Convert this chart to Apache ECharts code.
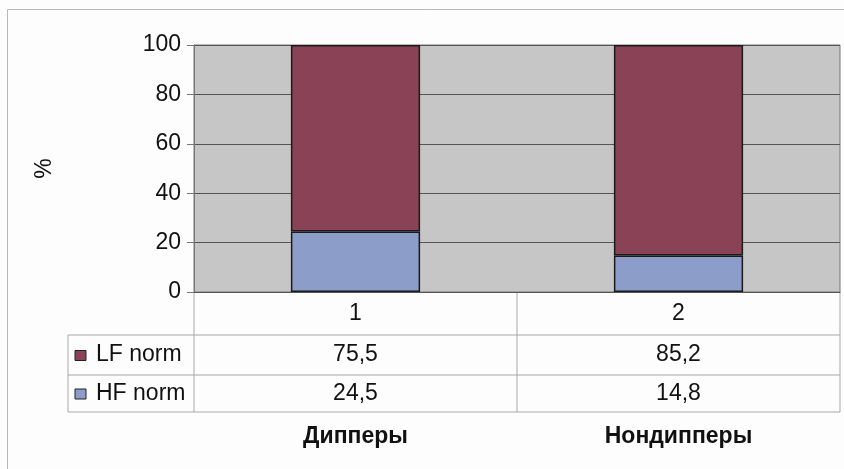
<!DOCTYPE html>
<html>
<head>
<meta charset="utf-8">
<script src="https://cdn.jsdelivr.net/npm/echarts@6/dist/echarts.min.js"></script>
<style>
  html, body { margin: 0; padding: 0; background: #fdfdfd; }
  #chart { width: 844px; height: 469px; }
</style>
</head>
<body>
<div id="chart"></div>
<script>
// Category indices shown in the data table header and group names below it
const categories = ['1', '2'];
const groupNames = ['Дипперы', 'Нондипперы'];
// Stacked shares, percent
const seriesNames = ['LF norm', 'HF norm'];
const lfNorm = [75.5, 85.2];
const hfNorm = [24.5, 14.8];
const yTicks = [0, 20, 40, 60, 80, 100];

const FONT = '"Liberation Sans", Arial, sans-serif';
const FS = 23;
const COLORS = { lf: '#8a4257', hf: '#8c9dca' };

const chart = echarts.init(document.getElementById('chart'));

const gridL = 194, gridT = 45, gridR = 840, gridB = 292;

chart.setOption({
  animation: false,
  backgroundColor: '#fdfdfd',
  grid: { left: gridL, top: gridT, right: 844 - gridR, bottom: 469 - gridB, show: true,
          backgroundColor: '#c6c6c6', borderColor: '#777', borderWidth: 1 },
  xAxis: [{
    type: 'category',
    data: categories,
    axisLine: { show: true, lineStyle: { color: '#555' } },
    axisTick: { show: false },
    axisLabel: { color: '#111', fontFamily: FONT, fontSize: FS, margin: 10 }
  }, {
    type: 'category',
    data: groupNames,
    position: 'bottom',
    offset: 133,
    axisLine: { show: false },
    axisTick: { show: false },
    axisLabel: { color: '#111', fontFamily: FONT, fontSize: FS, fontWeight: 'bold', margin: 0 }
  }],
  yAxis: {
    type: 'value',
    min: yTicks[0],
    max: yTicks[yTicks.length - 1],
    interval: yTicks[1] - yTicks[0],
    name: '%',
    nameLocation: 'middle',
    nameRotate: 90,
    nameGap: 138,
    nameTextStyle: { color: '#111', fontFamily: FONT, fontSize: FS },
    axisLine: { show: true, lineStyle: { color: '#777' } },
    axisTick: { show: true, length: 7, lineStyle: { color: '#777' } },
    axisLabel: { color: '#111', fontFamily: FONT, fontSize: FS, margin: 13,
                 formatter: v => String(v) },
    splitLine: { show: true, lineStyle: { color: '#555', width: 1 } }
  },
  series: [{
    name: seriesNames[1],
    type: 'bar',
    stack: 'total',
    data: hfNorm,
    barWidth: '40%',
    itemStyle: { color: COLORS.hf, borderColor: '#1a1a1a', borderWidth: 1.5 }
  }, {
    name: seriesNames[0],
    type: 'bar',
    stack: 'total',
    data: lfNorm,
    barWidth: '40%',
    itemStyle: { color: COLORS.lf, borderColor: '#1a1a1a', borderWidth: 1.5 }
  }]
});

// Data table under the plot: grid lines, legend keys and formatted values
const rowTop = 335, rowMid = 375, rowBot = 412, tableL = 68;
const lineStyle = { stroke: '#a8a8a8', lineWidth: 1 };
const elements = [];
function hLine(x1, x2, y) {
  elements.push({ type: 'line', shape: { x1, y1: y, x2, y2: y }, style: lineStyle, silent: true });
}
function vLine(x, y1, y2) {
  elements.push({ type: 'line', shape: { x1: x, y1, x2: x, y2 }, style: lineStyle, silent: true });
}
hLine(tableL, gridR, rowTop);
hLine(tableL, gridR, rowMid);
hLine(tableL, gridR, rowBot);
vLine(tableL, rowTop, rowBot);
vLine(gridL, gridB, rowBot);
vLine(gridR, gridB, rowBot);
const boundary = (chart.convertToPixel({ xAxisIndex: 0 }, 0) + chart.convertToPixel({ xAxisIndex: 0 }, 1)) / 2;
vLine(boundary, gridB, rowBot);

const rows = [
  { name: seriesNames[0], values: lfNorm, color: COLORS.lf, y: (rowTop + rowMid) / 2 },
  { name: seriesNames[1], values: hfNorm, color: COLORS.hf, y: (rowMid + rowBot) / 2 }
];
const fmt = v => v.toFixed(1).replace('.', ',');
rows.forEach(r => {
  elements.push({ type: 'rect', shape: { x: 75, y: r.y - 4.5, width: 11, height: 10 },
                  style: { fill: r.color, stroke: '#222', lineWidth: 1 }, silent: true });
  elements.push({ type: 'text', x: 96, y: r.y,
                  style: { text: r.name, fill: '#111', font: FS + 'px ' + FONT, textVerticalAlign: 'middle', verticalAlign: 'middle' },
                  silent: true });
  r.values.forEach((v, i) => {
    const cx = chart.convertToPixel({ xAxisIndex: 0 }, i);
    elements.push({ type: 'text', x: cx, y: r.y,
                    style: { text: fmt(v), fill: '#111', font: FS + 'px ' + FONT,
                             align: 'center', textAlign: 'center', verticalAlign: 'middle', textVerticalAlign: 'middle' },
                    silent: true });
  });
});
// Outer chart frame
elements.push({ type: 'rect', shape: { x: 7.5, y: 9.5, width: 900, height: 600 },
                style: { fill: 'none', stroke: '#b8b8b8', lineWidth: 1 }, silent: true });
chart.setOption({ graphic: elements });
</script>
</body>
</html>
